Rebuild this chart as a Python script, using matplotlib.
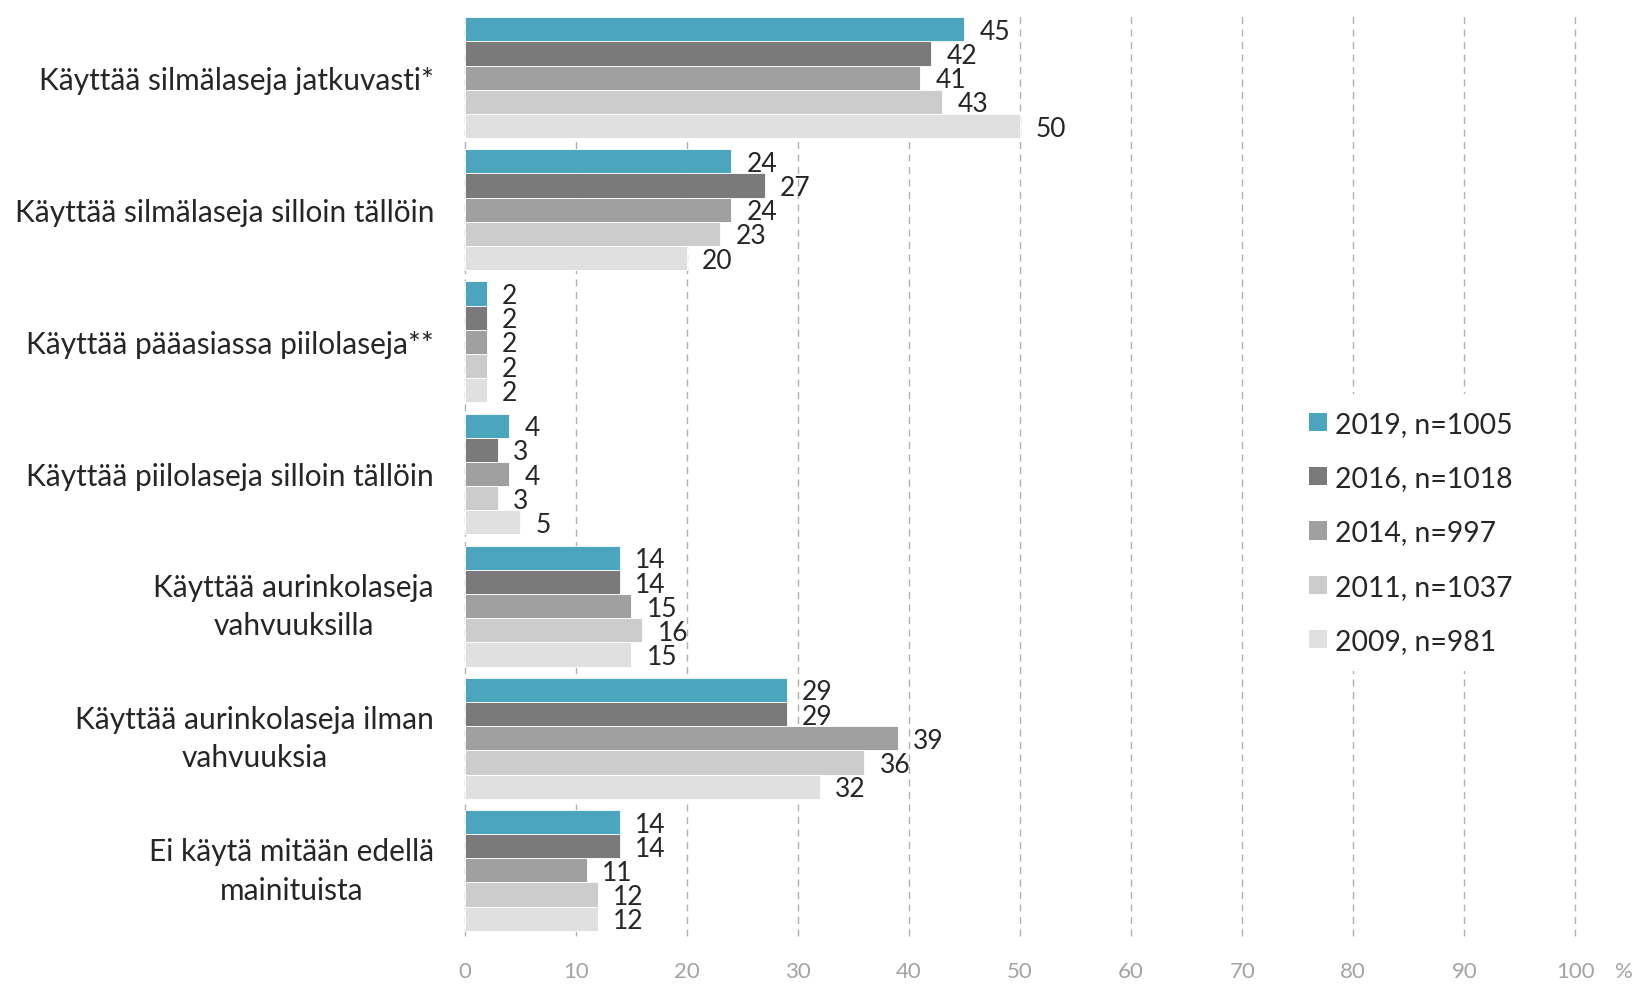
import matplotlib.pyplot as plt
import numpy as np
from matplotlib.patches import Patch

plt.rcParams['font.family'] = ['Lato', 'DejaVu Sans']

categories = [
   "Käyttää silmälaseja jatkuvasti*",
   "Käyttää silmälaseja silloin tällöin",
   "Käyttää pääasiassa piilolaseja**",
   "Käyttää piilolaseja silloin tällöin",
   "Käyttää aurinkolaseja\nvahvuuksilla",
   "Käyttää aurinkolaseja ilman\nvahvuuksia",
   "Ei käytä mitään edellä\nmainituista",
]
series_names = ["2019, n=1005", "2016, n=1018", "2014, n=997", "2011, n=1037", "2009, n=981"]
v2019 = [45, 24, 2, 4, 14, 29, 14]
v2016 = [42, 27, 2, 3, 14, 29, 14]
v2014 = [41, 24, 2, 4, 15, 39, 11]
v2011 = [43, 23, 2, 3, 16, 36, 12]
v2009 = [50, 20, 2, 5, 15, 32, 12]
series = [v2019, v2016, v2014, v2011, v2009]
colors = ["#4ba6bd", "#7a7a7a", "#a0a0a0", "#cccccc", "#e0e0e0"]
xticks = list(range(0, 101, 10))

fig = plt.figure(figsize=(16.37, 9.87), dpi=100)
ax = fig.add_axes([0.2838, 0.0502, 0.9624 - 0.2838, 0.9873 - 0.0502])

y = np.arange(len(categories))
h = 0.183
for i, vals in enumerate(series):
   pos = y + (i - 2) * h
   ax.barh(pos, vals, height=h, color=colors[i], edgecolor="white", linewidth=0.6, zorder=2)
   for p, v in zip(pos, vals):
      ax.annotate(str(v), (v, p), xytext=(11, -1.5), textcoords="offset points",
                  va="center", ha="left", fontsize=19, color="#262626")

ax.set_xlim(0, 100)
ax.set_ylim(len(categories) - 0.5, -0.5)
ax.set_xticks(xticks)
ax.set_xticklabels([str(t) for t in xticks])
ax.set_yticks(y)
ax.set_yticklabels(categories, multialignment="center", linespacing=1.45)
for t in ax.get_yticklabels():
   if "\n" in t.get_text():
      t.set_va("center")
ax.tick_params(axis="x", length=0, pad=18, labelsize=16, labelcolor="#a3a3a3")
ax.tick_params(axis="y", length=0, pad=22, labelsize=21.5, labelcolor="#262626")
ax.grid(axis="x", color="#b0b0b0", linestyle=(0, (5, 4)), linewidth=1, zorder=0)
for g in ax.get_xgridlines():
   g.set_clip_on(False)
for s in ax.spines.values():
   s.set_visible(False)

fig.text(1624 / 1637, 1 - 972 / 987, "%", ha="center", va="center", fontsize=16, color="#a3a3a3")

handles = [Patch(facecolor=c, edgecolor="none") for c in colors]
leg = fig.legend(handles, series_names, loc="center left", bbox_to_anchor=(1292 / 1637, 0.4595),
                 fontsize=20.4, frameon=True, facecolor="white", edgecolor="none", framealpha=1,
                 handlelength=0.62, handleheight=0.62, handletextpad=0.3, labelspacing=1.0,
                 borderpad=0.6, borderaxespad=0)
for t in leg.get_texts():
   t.set_color("#262626")

fig.savefig("out.png", dpi=100)
